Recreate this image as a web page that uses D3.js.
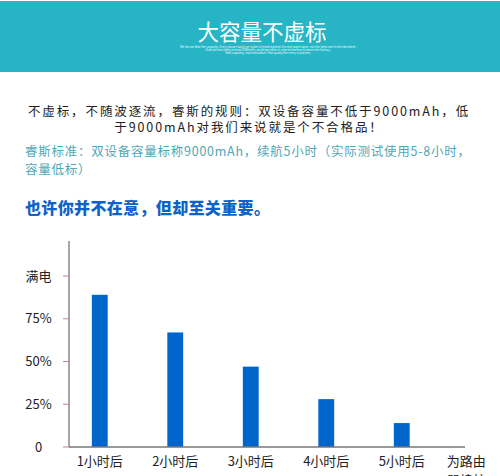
<!DOCTYPE html>
<html>
<head>
<meta charset="utf-8">
<script src="https://cdn.jsdelivr.net/npm/d3@7/dist/d3.min.js"></script>
<style>
  html, body { margin: 0; padding: 0; background: #fff; }
  svg { display: block; font-family: "Noto Sans CJK SC", "Noto Sans", sans-serif; }
</style>
</head>
<body>
<svg id="chart" width="500" height="476"></svg>
<script>
// ---------------- data ----------------
var categories = ["1小时后", "2小时后", "3小时后", "4小时后", "5小时后", "为路由器续航"];
var batteryLeft = [89, 67, 47, 28, 14, null];   // % of full charge
var yTickValues = [0, 25, 50, 75, 100];
var yTickLabels = ["0", "25%", "50%", "75%", "满电"];

var titleText = "大容量不虚标";
var subtitleLines = [
  "We do not fake the capacity. Every power bank we make is tested against the real rated value, not the ideal one in the lab sheet.",
  "Dual devices keep at least 9000mAh; anything lower is rejected before it leaves the factory.",
  "Real capacity, real endurance, real quality for every customer."
];
var introLines = [
  "不虚标，不随波逐流，睿斯的规则：双设备容量不低于9000mAh，低",
  "于9000mAh对我们来说就是个不合格品！"
];
var standardLines = [
  "睿斯标准：双设备容量标称9000mAh，续航5小时（实际测试使用5-8小时，",
  "容量低标）"
];
var headline = "也许你并不在意，但却至关重要。";

var svg = d3.select("#chart");

// ---------------- header banner ----------------
svg.append("rect")
    .attr("x", 0).attr("y", 1)
    .attr("width", 500).attr("height", 71)
    .style("fill", "#27b5c6");

svg.append("text")
    .attr("x", 262).attr("y", 40)
    .attr("text-anchor", "middle")
    .style("font-size", "21.5px")
    .style("fill", "#fff")
    .text(titleText);

var subY = [48, 51, 54];
svg.selectAll("text.sub")
    .data(subtitleLines)
  .enter().append("text")
    .attr("class", "sub")
    .attr("x", 268)
    .attr("y", function(d, i) { return subY[i]; })
    .attr("text-anchor", "middle")
    .style("font-size", "3px")
    .style("fill", "#e6f7fa")
    .text(function(d) { return d; });

// ---------------- text blocks ----------------
svg.selectAll("text.intro")
    .data(introLines)
  .enter().append("text")
    .attr("class", "intro")
    .attr("x", 249)
    .attr("y", function(d, i) { return 115.5 + i * 16; })
    .attr("text-anchor", "middle")
    .style("font-size", "12.5px")
    .style("letter-spacing", "1.9px")
    .style("fill", "#222")
    .text(function(d) { return d; });

svg.selectAll("text.std")
    .data(standardLines)
  .enter().append("text")
    .attr("class", "std")
    .attr("x", 25)
    .attr("y", function(d, i) { return 156 + i * 17.5; })
    .style("font-size", "12.5px")
    .style("letter-spacing", "0.75px")
    .style("fill", "#4fa6b6")
    .text(function(d) { return d; });

svg.append("text")
    .attr("x", 25).attr("y", 214)
    .style("font-size", "16px")
    .style("font-weight", 900)
    .style("letter-spacing", "0.35px")
    .style("fill", "#0d62c8")
    .text(headline);

// ---------------- chart ----------------
var axisX = 69, baseY = 447, topY = 241, axisEnd = 465;

var xScale = d3.scaleBand()
    .domain(categories)
    .range([62, 515])
    .paddingInner(0.79)
    .paddingOuter(0.395);

var yScale = d3.scaleLinear()
    .domain([0, 100])
    .range([baseY, 276]);

var g = svg.append("g");

// bars
g.selectAll("rect.bar")
    .data(categories.map(function(c, i) { return { cat: c, v: batteryLeft[i] }; })
                    .filter(function(d) { return d.v != null; }))
  .enter().append("rect")
    .attr("class", "bar")
    .attr("x", function(d) { return xScale(d.cat); })
    .attr("width", xScale.bandwidth())
    .attr("y", function(d) { return yScale(d.v); })
    .attr("height", function(d) { return baseY - yScale(d.v); })
    .style("fill", "#0066cc");

// y axis line
g.append("line")
    .attr("x1", axisX).attr("x2", axisX)
    .attr("y1", topY).attr("y2", baseY)
    .style("stroke", "#777").style("stroke-width", 1.3);

// x axis line
g.append("line")
    .attr("x1", axisX).attr("x2", axisEnd)
    .attr("y1", baseY).attr("y2", baseY)
    .style("stroke", "#777").style("stroke-width", 1.3);

// y ticks
g.selectAll("line.ytick")
    .data(yTickValues)
  .enter().append("line")
    .attr("class", "ytick")
    .attr("x1", 63).attr("x2", axisX)
    .attr("y1", function(d) { return yScale(d); })
    .attr("y2", function(d) { return yScale(d); })
    .style("stroke", "#d08080").style("stroke-width", 1);

g.selectAll("text.ylab")
    .data(yTickValues)
  .enter().append("text")
    .attr("class", "ylab")
    .attr("x", 38.5)
    .attr("y", function(d) { return yScale(d) + 4.5; })
    .attr("text-anchor", "middle")
    .style("font-size", "13px")
    .style("fill", "#222")
    .text(function(d, i) { return yTickLabels[i]; });

// x labels (last one wraps into two lines)
g.selectAll("text.xlab")
    .data(categories)
  .enter().append("text")
    .attr("class", "xlab")
    .attr("x", function(d, i) {
      return xScale(d) + xScale.bandwidth() / 2 + (i == categories.length - 1 ? -11 : 0);
    })
    .attr("y", 466)
    .attr("text-anchor", "middle")
    .style("font-size", "13px")
    .style("fill", "#222")
    .each(function(d) {
      var t = d3.select(this);
      var x = t.attr("x");
      if (d.length > 4) {
        t.append("tspan").attr("x", x).text(d.slice(0, 3));
        t.append("tspan").attr("x", x).attr("dy", 19).text(d.slice(3));
      } else {
        t.text(d);
      }
    });
</script>
</body>
</html>
